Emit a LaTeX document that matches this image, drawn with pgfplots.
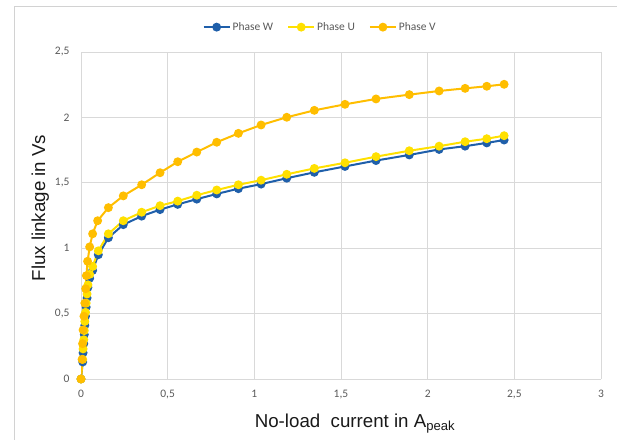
\documentclass[border=0pt]{standalone}
\usepackage{pgfplots}
\pgfplotsset{compat=1.18}
\usepackage{fontspec}
\setmainfont{Liberation Sans}
\newfontfamily\calibri{Carlito}
\definecolor{cW}{HTML}{1F5FAA}
\definecolor{cU}{HTML}{FFE000}
\definecolor{cV}{HTML}{FFBE00}
\definecolor{gridc}{HTML}{D9D9D9}
\definecolor{tickc}{HTML}{595959}
\begin{document}
\begin{tikzpicture}[x=1pt,y=1pt]
\clip (0,0) rectangle (617,439);
\draw[gray!35, line width=0.8pt] (14,-10) rectangle (650,433);
\begin{axis}[
  at={(81pt,60pt)}, anchor=south west,
  scale only axis, width=520pt, height=327pt,
  xmin=0, xmax=3, ymin=0, ymax=2.5,
  xtick={0,0.5,...,3}, ytick={0,0.5,...,2.5},
  grid=major, grid style={gridc, line width=0.8pt},
  axis line style={gridc, line width=0.8pt},
  axis lines*=left,
  major tick length=0pt,
  /pgf/number format/assume math mode=true,
  /pgf/number format/use comma,
  ticklabel style={font=\calibri\fontsize{11.5}{13}\selectfont, text=tickc},
  xticklabel style={yshift=-8pt},
  yticklabel style={xshift=-8pt},
  xlabel={No-load\ \ current in A\textsubscript{peak}},
  ylabel={Flux linkage in Vs},
  label style={font=\fontsize{18.7}{22}\selectfont, text=black!90},
  xlabel style={at={(axis description cs:0.527,-0.147)}, anchor=base},
  ylabel style={at={(axis description cs:-0.069,0.523)}, anchor=base},
  legend style={draw=none, at={(axis description cs:0.46,1.076)}, anchor=center,
    legend columns=3, font=\calibri\fontsize{11.5}{13}\selectfont, text=tickc,
    /tikz/every even column/.append style={column sep=12pt}},
  legend image code/.code={\draw[mark repeat=2,mark phase=2] plot coordinates {(0pt,0pt) (13pt,0pt) (26pt,0pt)};},
  every axis plot/.append style={line width=2pt, mark=*, mark size=3.4pt},
]
\addplot[cW, mark options={fill=cW, draw=cW}] coordinates {
(0,0)(0.010,0.13)(0.012,0.20)(0.016,0.27)(0.019,0.34)(0.022,0.41)(0.026,0.48)(0.030,0.55)(0.035,0.62)(0.040,0.70)(0.050,0.77)(0.067,0.83)(0.100,0.95)(0.158,1.08)(0.244,1.18)(0.350,1.245)(0.456,1.295)(0.558,1.335)(0.668,1.375)(0.783,1.415)(0.908,1.455)(1.039,1.49)(1.187,1.535)(1.346,1.58)(1.523,1.625)(1.702,1.67)(1.894,1.713)(2.066,1.755)(2.216,1.78)(2.341,1.805)(2.441,1.827)};
\addlegendentry{Phase W}
\addplot[cU, mark options={fill=cU, draw=cU}] coordinates {
(0,0)(0.010,0.15)(0.012,0.23)(0.016,0.30)(0.019,0.37)(0.022,0.44)(0.026,0.51)(0.030,0.58)(0.035,0.65)(0.040,0.72)(0.050,0.80)(0.067,0.86)(0.100,0.98)(0.158,1.11)(0.244,1.21)(0.350,1.275)(0.456,1.325)(0.558,1.36)(0.668,1.405)(0.783,1.445)(0.908,1.485)(1.039,1.52)(1.187,1.565)(1.346,1.61)(1.523,1.653)(1.702,1.70)(1.894,1.745)(2.066,1.78)(2.216,1.814)(2.341,1.837)(2.441,1.86)};
\addlegendentry{Phase U}
\addplot[cV, mark options={fill=cV, draw=cV}] coordinates {
(0,0)(0.006,0.15)(0.009,0.27)(0.012,0.375)(0.017,0.48)(0.022,0.58)(0.027,0.69)(0.031,0.79)(0.038,0.90)(0.050,1.01)(0.067,1.11)(0.096,1.21)(0.158,1.31)(0.244,1.40)(0.350,1.485)(0.456,1.577)(0.558,1.661)(0.668,1.735)(0.783,1.81)(0.908,1.878)(1.039,1.942)(1.187,2.001)(1.346,2.054)(1.523,2.10)(1.702,2.141)(1.894,2.174)(2.066,2.202)(2.216,2.222)(2.341,2.238)(2.441,2.253)};
\addlegendentry{Phase V}
\end{axis}
\end{tikzpicture}
\end{document}
